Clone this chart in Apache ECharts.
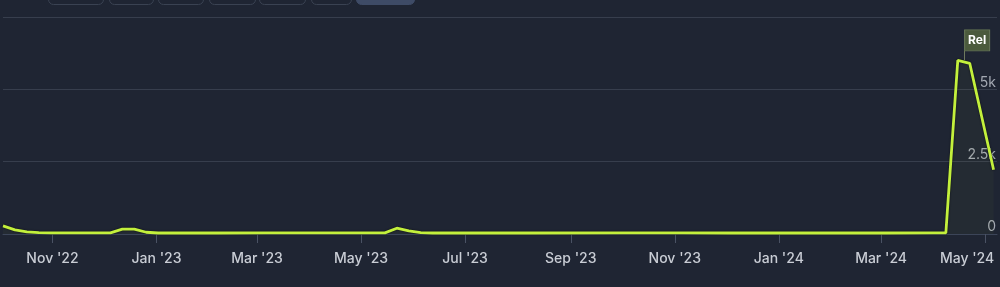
<!DOCTYPE html>
<html>
<head>
<meta charset="utf-8">
<script src="https://cdn.jsdelivr.net/npm/echarts@6/dist/echarts.min.js"></script>
<style>
html,body{margin:0;padding:0;background:#1f2533;}
#c{width:1000px;height:287px;}
</style>
</head>
<body>
<div id="c"></div>
<script>
// ---- data ----
const dates = ['2022-10-03','2022-10-10','2022-10-17','2022-10-24','2022-10-31','2022-11-14','2022-11-28','2022-12-05','2022-12-12','2022-12-19','2022-12-26','2023-01-02','2023-02-06','2023-03-06','2023-04-03','2023-05-08','2023-05-15','2023-05-22','2023-05-29','2023-06-05','2023-06-12','2023-08-07','2023-10-02','2023-11-06','2023-12-04','2024-01-08','2024-02-05','2024-03-04','2024-04-01','2024-04-08','2024-04-15','2024-04-22','2024-05-06'];
const players = [280,140,70,50,40,38,38,40,170,170,60,35,35,38,36,38,40,200,110,50,35,35,38,40,35,35,35,35,38,40,6000,5900,2220];
const tickDates = ['2022-11-01','2023-01-01','2023-03-01','2023-05-01','2023-07-01','2023-09-01','2023-11-01','2024-01-01','2024-03-01','2024-05-01'];
const tickLabels = ["Nov '22","Jan '23","Mar '23","May '23","Jul '23","Sep '23","Nov '23","Jan '24","Mar '24","May '24"];
const yTicks = [0, 2500, 5000, 7500];
const yLabels = ['0', '2.5k', '5k', ''];
const flagDate = '2024-04-19';
const flagText = 'Rel';
const flagValue = 6330;
const flagBase = 6010;

function ts(s){ const p = s.split('-').map(Number); return Date.UTC(p[0], p[1]-1, p[2]); }
const tickTs = tickDates.map(ts);

const chart = echarts.init(document.getElementById('c'), null, {renderer:'canvas'});

const btns = [[48,103],[109,153],[158,203],[209,255],[259,305],[311,351],[356,414]];
const graphics = btns.map((b,i)=>({
  type:'rect', left:b[0], top:-20,
  shape:{width:b[1]-b[0], height:24, r:5},
  style:{fill: i===btns.length-1 ? '#3e4b66' : '#1f2533', stroke: i===btns.length-1 ? '#3e4b66' : '#3a4252', lineWidth:1},
  silent:true
}));

chart.setOption({
  animation:false,
  backgroundColor:'#1f2533',
  graphic: graphics,
  grid:{left:3, right:3, top:17, bottom:53, containLabel:false},
  xAxis:{
    type:'value',
    min: ts('2022-10-03'),
    max: ts('2024-05-08'),
    axisLine:{show:true, lineStyle:{color:'#3c4558', width:1}},
    axisTick:{show:true, customValues: tickTs, length:9, lineStyle:{color:'#4a5264'}},
    splitLine:{show:false},
    axisLabel:{
      customValues: tickTs,
      margin:18,
      color:'#c9cdd5',
      fontFamily:'Inter, "Open Sans", sans-serif',
      fontSize:14,
      fontWeight:500,
      formatter:function(v){
        const i = tickTs.indexOf(v);
        const t = i>=0 ? tickLabels[i] : '';
        if (i === tickTs.length-1) return '{r|'+t+'}';
        return t;
      },
      rich:{r:{color:'#c9cdd5', fontFamily:'Inter, "Open Sans", sans-serif', fontSize:14, fontWeight:500, padding:[0,36,0,0]}}
    }
  },
  yAxis:{
    type:'value',
    position:'right',
    min:0, max:7500, interval:2500,
    axisLine:{show:false},
    axisTick:{show:false},
    splitLine:{show:true, lineStyle:{color:'#373e4d', width:1}},
    axisLabel:{
      inside:true,
      margin:1,
      verticalAlign:'bottom',
      padding:[0,0,0,0],
      color:'#a3a8b2',
      fontFamily:'Inter, "Open Sans", sans-serif',
      fontSize:14,
      formatter:function(v){ const i = yTicks.indexOf(v); return i>=0 ? yLabels[i] : ''; }
    }
  },
  series:[{
    type:'line',
    data: dates.map((d,i)=>[ts(d), players[i]]),
    showSymbol:false,
    symbol:'none',
    lineStyle:{color:'#c3f03c', width:2.8, shadowColor:'rgba(0,0,0,0.7)', shadowBlur:2},
    areaStyle:{color:'rgba(195,240,60,0.05)'},
    markLine:{
      silent:true, symbol:'none', animation:false,
      lineStyle:{color:'#6e7a5e', width:1, type:'solid'},
      label:{show:false},
      data:[[{coord:[ts(flagDate), flagBase]},{coord:[ts(flagDate), flagValue]}]]
    },
    markPoint:{
      silent:true, animation:false,
      data:[{
        coord:[ts(flagDate), flagValue],
        symbol:'rect',
        symbolSize:[25,21],
        symbolOffset:[12.5,-10.5],
        itemStyle:{color:'#4b5a3c', borderColor:'#657456', borderWidth:1},
        label:{show:true, position:'inside', formatter:flagText, color:'#ffffff', fontWeight:'bold', fontSize:12, fontFamily:'Inter, sans-serif'}
      }]
    }
  }]
});
</script>
</body>
</html>
